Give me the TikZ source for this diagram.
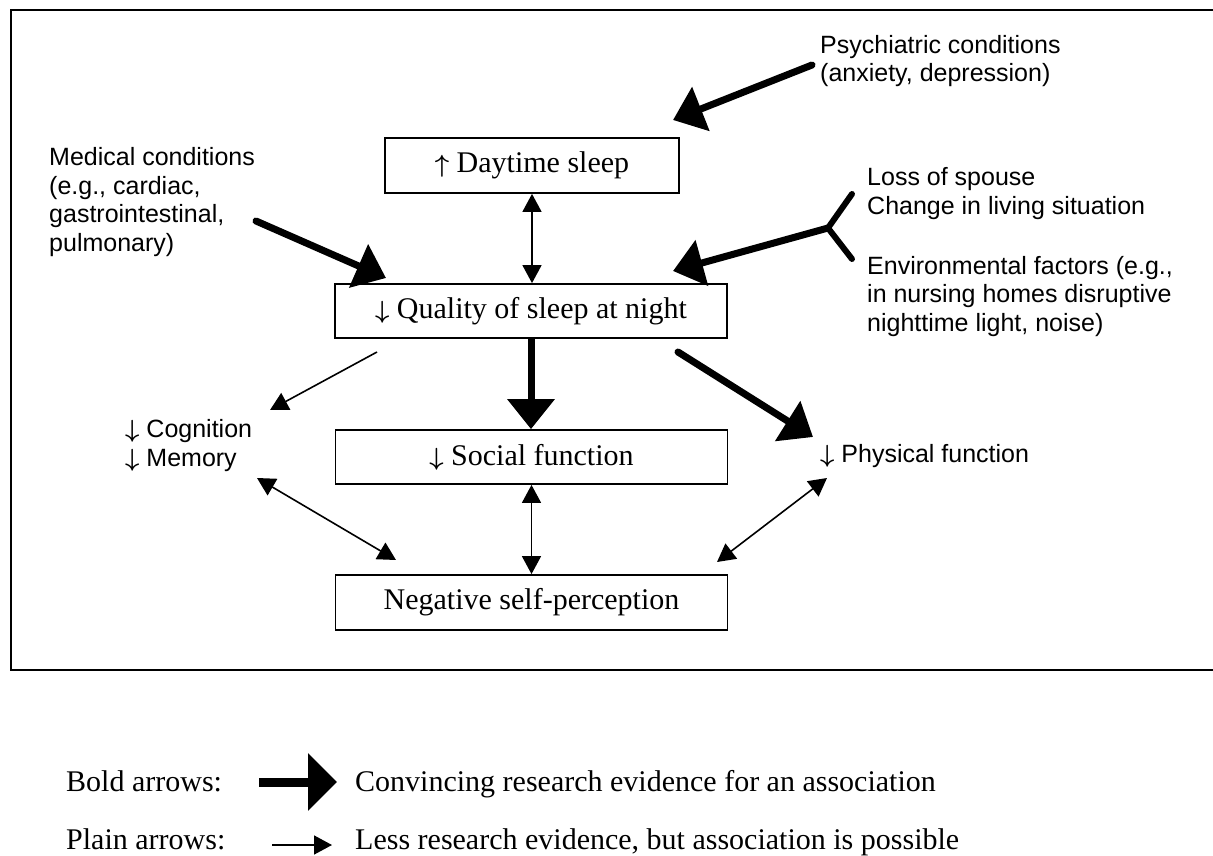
\documentclass[tikz,border=0pt]{standalone}
\usepackage{fontspec}
\setmainfont{Liberation Serif}
\newfontfamily\sansf{Liberation Sans}
\usetikzlibrary{arrows.meta}
\newcommand{\dn}{{\boldmath$\downarrow$}}
\newcommand{\upa}{{\boldmath$\uparrow$}}
\begin{document}
\begin{tikzpicture}[x=1pt,y=-1pt,
  box/.style={draw,line width=1.8pt,minimum width=392pt,minimum height=54pt,inner sep=0pt,font=\fontsize{30}{34}\selectfont},
  lab/.style={align=left,inner sep=0pt,anchor=base west,font=\sansf\fontsize{25}{28.5}\selectfont},
  leg/.style={inner sep=0pt,anchor=base west,font=\fontsize{30}{34}\selectfont},
  boldarr/.style={line width=7pt,-{Triangle[length=30pt,width=46pt]}},
  thinarr/.style={line width=1.6pt,-{Triangle[length=18pt,width=19pt]}},
  botharr/.style={line width=1.6pt,{Triangle[length=18pt,width=19pt]}-{Triangle[length=18pt,width=19pt]}},
]
\useasboundingbox (0,0) rectangle (1213,856);
\fill[white] (0,0) rectangle (1213,856);
\draw[line width=2.5pt] (1216,10) -- (11,10) -- (11,670) -- (1216,670);

% boxes
\node[box,minimum width=294pt,minimum height=55pt] (day) at (532,165.5) {\upa\ Daytime sleep};
\node[box] (qual) at (531,311) {\dn\ Quality of sleep at night};
\node[box] (soc) at (531.5,457) {\dn\ Social function};
\node[box,minimum height=55pt] (neg) at (531.5,602.5) {Negative self-perception};

% labels (base anchor = baseline of last line)
\node[lab] (psy) at (820,82) {Psychiatric conditions\\(anxiety, depression)};
\node[lab] (med) at (49,251) {Medical conditions\\(e.g., cardiac,\\gastrointestinal,\\pulmonary)};
\node[lab] (loss) at (867,214) {Loss of spouse\\Change in living situation};
\node[lab] (env) at (867,331) {Environmental factors (e.g.,\\in nursing homes disruptive\\nighttime light, noise)};
\node[lab] (cog) at (125,466) {\dn\ Cognition\\\dn\ Memory};
\node[lab] (phys) at (820,462) {\dn\ Physical function};

% coordinates
\coordinate (psyS) at (812,65);
\coordinate (psyT) at (673,120);
\coordinate (medS) at (256,221);
\coordinate (medT) at (386,278);
\coordinate (v) at (828,228);
\coordinate (b1) at (852,194);
\coordinate (b2) at (852,259);
\coordinate (lossT) at (673,271);
\coordinate (cogS) at (377,352);
\coordinate (cogT) at (270,410);
\coordinate (physS) at (678,352);
\coordinate (physT) at (813,437);
\coordinate (cnA) at (257,478);
\coordinate (cnB) at (396,560);
\coordinate (pnA) at (827,478);
\coordinate (pnB) at (717,562);

% connectors
\draw[boldarr,line cap=round] (psyS) -- (psyT);
\draw[boldarr,line cap=round] (medS) -- (medT);
\draw[line width=6pt,line cap=round,line join=miter] (b1) -- (v) -- (b2);
\draw[boldarr] (v) -- (lossT);
\draw[botharr] (day.south) -- (day.south |- qual.north);
\draw[boldarr] (qual.south) -- (qual.south |- soc.north);
\draw[thinarr] (cogS) -- (cogT);
\draw[boldarr,line cap=round] (physS) -- (physT);
\draw[botharr] (soc.south) -- (neg.north);
\draw[botharr] (cnA) -- (cnB);
\draw[botharr] (pnA) -- (pnB);

% legend
\node[leg] (bl) at (66,791) {Bold arrows:};
\node[leg] (bt) at (355,791) {Convincing research evidence for an association};
\node[leg] (pl) at (66,849) {Plain arrows:};
\node[leg] (pt) at (355,849) {Less research evidence, but association is possible};
\coordinate (blS) at (259,782);
\coordinate (blT) at (337,782);
\coordinate (plS) at (272,845);
\coordinate (plT) at (332,845);
\draw[line width=9pt,-{Triangle[length=29pt,width=56pt]}] (blS) -- (blT);
\draw[thinarr] (plS) -- (plT);
\end{tikzpicture}
\end{document}
